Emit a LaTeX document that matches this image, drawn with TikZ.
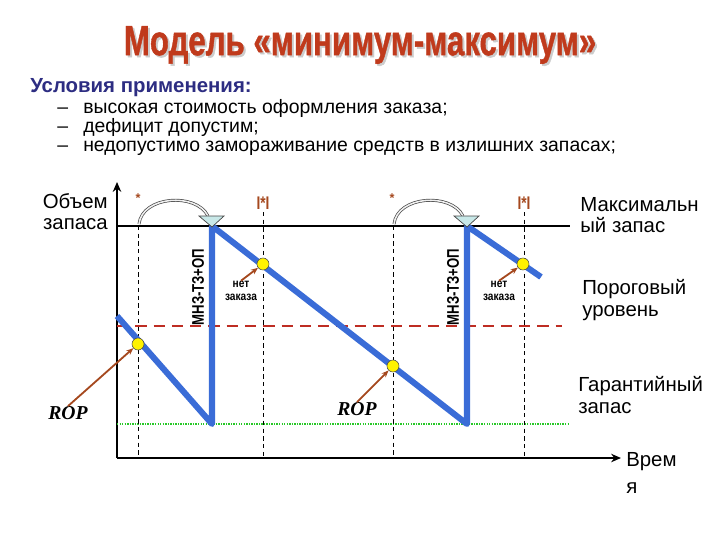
\documentclass[tikz,border=0pt]{standalone}
\usepackage{fontspec}
\setmainfont{Liberation Sans}
\newfontfamily\ropfont{Liberation Serif}
\newfontfamily\titlefont[FakeBold=1.2]{Liberation Sans Bold}
\usetikzlibrary{arrows.meta}

\definecolor{titlered}{RGB}{192,58,28}
\definecolor{navy}{RGB}{45,45,130}
\definecolor{stockblue}{RGB}{58,108,215}
\definecolor{arrowbrown}{RGB}{165,72,30}
\definecolor{limitred}{RGB}{190,45,35}
\definecolor{safegreen}{RGB}{40,200,40}
\definecolor{tipcyan}{RGB}{200,232,232}

\tikzset{
  axis/.style={line width=1.4pt, -{Stealth[length=7pt,width=6pt]}},
  guide/.style={line width=0.6pt, dash pattern=on 3pt off 2.5pt},
  stock/.style={stockblue, line width=4.3pt, line join=round},
  dot/.style={circle, draw=black!70, fill=yellow, line width=0.4pt, minimum size=0.3cm, inner sep=0pt},
  pointer/.style={arrowbrown, line width=1.3pt, -{Stealth[length=5pt,width=4pt]}},
  hop/.style={draw=gray!55!black, double=gray!12, double distance=1.1pt, line width=0.5pt},
  sidetext/.style={font=\fontsize{14.5}{15}\selectfont, align=left, anchor=west, inner sep=0pt},
  stamp/.style={text=arrowbrown, font=\fontsize{13}{13}\bfseries, inner sep=0pt},
  vtext/.style={rotate=90, font=\fontsize{12}{12}\bfseries, inner sep=0pt},
  nztext/.style={font=\fontsize{8.5}{9.5}\bfseries, align=center, inner sep=0pt},
  roptext/.style={font=\fontsize{14}{14}\ropfont\bfseries\itshape, inner sep=0pt}
}

\begin{document}
\begin{tikzpicture}[x=0.025cm,y=-0.025cm]
\useasboundingbox (0,0) rectangle (720,540);

% title with shadow
\node[text=gray!40, font=\fontsize{30}{30}\titlefont] at (362,47) {\scalebox{0.74}[1]{Модель «минимум-максимум»}};
\node[text=titlered, font=\fontsize{30}{30}\titlefont] (title) at (360,45) {\scalebox{0.74}[1]{Модель «минимум-максимум»}};

% conditions
\node[anchor=west, inner sep=0pt, text=navy, font=\fontsize{14.5}{14.5}\bfseries] (cond) at (30,88) {Условия применения:};
\node[anchor=north west, inner sep=0pt, align=left, font=\fontsize{13.8}{13.5}\selectfont] (conds) at (57,99)
  {\makebox[0.65cm][l]{–}высокая стоимость оформления заказа;\\
   \makebox[0.65cm][l]{–}дефицит допустим;\\
   \makebox[0.65cm][l]{–}недопустимо замораживание средств в излишних запасах;};

% axes
\coordinate (O) at (117,458);
\coordinate (ytop) at (117,182);
\coordinate (xend) at (621,458);
\draw[axis] (O) -- (ytop);
\draw[axis] (O) -- (xend);

% levels
\draw[line width=1.4pt] (117,226) -- (570,226);
\draw[limitred, line width=1.5pt, dash pattern=on 8pt off 5pt] (117,326) -- (562,326);
\draw[safegreen, line width=1.2pt, dash pattern=on 1pt off 0.8pt] (117,424) -- (570,424);

% guides
\draw[guide] (138,226) -- (138,458);
\draw[guide] (263,212) -- (263,458);
\draw[guide] (393,226) -- (393,458);
\draw[guide] (524,212) -- (524,458);

% stock
\draw[stock] (117,316) -- (212,424) -- (212,226) -- (467,424) -- (467,226) -- (541,277);

% order jumps
\draw[hop] (139,224) .. controls (142,196) and (196,192) .. (208,216);
\filldraw[fill=tipcyan, draw=gray!55!black, line width=0.5pt] (199,216) -- (224,216) -- (212,227) -- cycle;
\draw[hop] (394,224) .. controls (397,196) and (451,192) .. (463,216);
\filldraw[fill=tipcyan, draw=gray!55!black, line width=0.5pt] (454,216) -- (479,216) -- (467,227) -- cycle;

% marks
\node[text=arrowbrown, font=\fontsize{9}{9}\bfseries] (s1) at (138,198) {*};
\node[text=arrowbrown, font=\fontsize{9}{9}\bfseries] (s2) at (392,198) {*};
\node[stamp] (t1) at (263,203) {\scalebox{0.75}[1]{I*I}};
\node[stamp] (t2) at (524,203) {\scalebox{0.75}[1]{I*I}};

% vertical labels
\node[vtext] (q1) at (198,287) {\scalebox{0.78}[1]{МНЗ-ТЗ+ОП}};
\node[vtext] (q2) at (453,287) {\scalebox{0.78}[1]{МНЗ-ТЗ+ОП}};

% points
\node[dot] (rop1) at (138,344) {};
\node[dot] (chk1) at (263,264) {};
\node[dot] (rop2) at (393,366) {};
\node[dot] (chk2) at (523,264) {};

\node[roptext] (ropA) at (68,413) {ROP};
\node[roptext] (ropB) at (357,409) {ROP};
\node[nztext] (nz1) at (241,291) {\scalebox{0.85}[1]{нет}\\\scalebox{0.85}[1]{заказа}};
\node[nztext] (nz2) at (499,291) {\scalebox{0.85}[1]{нет}\\\scalebox{0.85}[1]{заказа}};

\draw[pointer] (ropA.north) -- (rop1);
\draw[pointer] (ropB.north) -- (rop2);
\draw[pointer] (nz1.north) -- (chk1);
\draw[pointer] (nz2.north) -- (chk2);

% side labels
\node[sidetext, anchor=east, align=right] (vol) at (108,212) {Объем\\запаса};
\node[sidetext] (maxl) at (580,215) {Максимальн\\ый запас};
\node[sidetext] (thr) at (582,300) {Пороговый\\уровень};
\node[sidetext] (safe) at (578,395) {Гарантийный\\запас};
\node[sidetext] (time) at (626,473) {Врем\\[4pt]я};
\end{tikzpicture}
\end{document}
